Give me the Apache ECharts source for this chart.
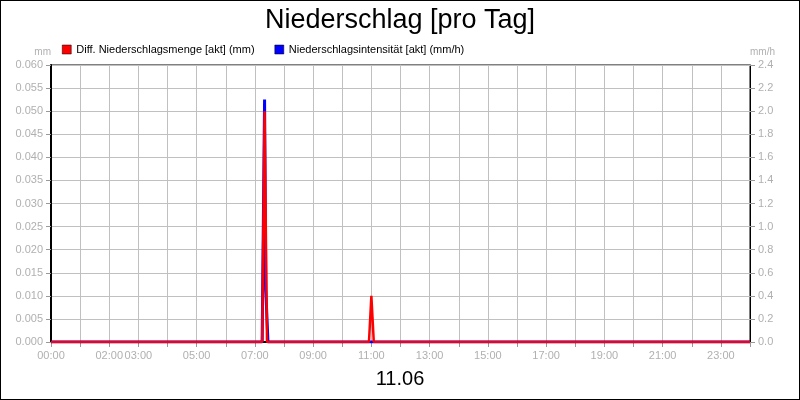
<!DOCTYPE html><html><head><meta charset="utf-8">
<script src="https://cdn.jsdelivr.net/npm/echarts@6/dist/echarts.min.js"></script>
<style>html,body{margin:0;padding:0}#c{width:798px;height:398px;border:1px solid #000}</style></head><body><div id="c"></div>
<script>
const xTickLabels = [0,2,3,5,7,9,11,13,15,17,19,21,23];
const mengeHours = [0, 7.25, 7.333, 7.417, 10.917, 11.0, 11.083, 24];
const mengeValues = [0, 0, 0.050, 0, 0, 0.010, 0, 0];
const intensHours = [0, 7.25, 7.333, 7.375, 7.45, 24];
const intensValues = [0, 0, 2.1, 0.45, 0, 0];
const pad = n => String(n).padStart(2,'0')+':00';
const chart = echarts.init(document.getElementById('c'));
const mk = (h,v) => h.map((x,i)=>[x,v[i]]);
const gridLine = {show:true,lineStyle:{color:'#c0c0c0',width:1}};
chart.setOption({
  animation:false,
  backgroundColor:'#fff',
  title:{text:'Niederschlag [pro Tag]',left:'center',top:1,textStyle:{fontFamily:'Arial, Liberation Sans',fontSize:27,fontWeight:'normal',color:'#000'}},
  legend:{left:56,top:38,itemWidth:9,itemHeight:9,itemGap:20,icon:'rect',textStyle:{fontFamily:'Arial, Liberation Sans',fontSize:11,color:'#000'},
    data:[{name:'Diff. Niederschlagsmenge [akt] (mm)',itemStyle:{color:'#ff0000',borderColor:'#000',borderWidth:0.5}},{name:'Niederschlagsintensität [akt] (mm/h)',itemStyle:{color:'#0000ff',borderColor:'#000',borderWidth:0.5}}]},
  graphic:[{type:'text',left:'center',top:368,style:{text:'11.06',font:'20px Arial, Liberation Sans',fill:'#000'}}],
  grid:{left:50,right:49,top:64,bottom:57,show:true,borderColor:'#000',borderWidth:1},
  xAxis:{type:'value',min:0,max:24,interval:1,
    axisLine:{lineStyle:{color:'#000',width:2}},axisTick:{show:true,lineStyle:{color:'#999'}},
    splitLine:gridLine,
    axisLabel:{color:'#b0b0b0',fontSize:11,fontFamily:'Arial, Liberation Sans',
      formatter:v=>xTickLabels.includes(v)?pad(v):''}},
  yAxis:[
    {type:'value',min:0,max:0.06,interval:0.005,name:'mm',nameGap:8,nameTextStyle:{color:'#b0b0b0',fontSize:10,align:'right'},
     axisLine:{show:true,lineStyle:{color:'#000',width:2}},axisTick:{show:true,lineStyle:{color:'#999'}},splitLine:gridLine,
     axisLabel:{color:'#b0b0b0',fontSize:11,fontFamily:'Arial, Liberation Sans',formatter:v=>v.toFixed(3)}},
    {type:'value',min:0,max:2.4,interval:0.2,name:'mm/h',nameGap:8,nameTextStyle:{color:'#b0b0b0',fontSize:10,align:'left'},
     axisLine:{show:true,lineStyle:{color:'#000'}},axisTick:{show:true,lineStyle:{color:'#999'}},splitLine:{show:false},
     axisLabel:{color:'#b0b0b0',fontSize:11,fontFamily:'Arial, Liberation Sans',formatter:v=>v.toFixed(1)}}
  ],
  series:[
    {name:'Niederschlagsintensität [akt] (mm/h)',type:'line',yAxisIndex:1,data:mk(intensHours,intensValues),showSymbol:false,lineStyle:{color:'#0000ff',width:3},itemStyle:{color:'#0000ff'}},
    {name:'Diff. Niederschlagsmenge [akt] (mm)',type:'line',yAxisIndex:0,data:mk(mengeHours,mengeValues),showSymbol:false,lineStyle:{color:'#ff0000',width:2.5},itemStyle:{color:'#ff0000'}}
  ]
});
</script></body></html>
